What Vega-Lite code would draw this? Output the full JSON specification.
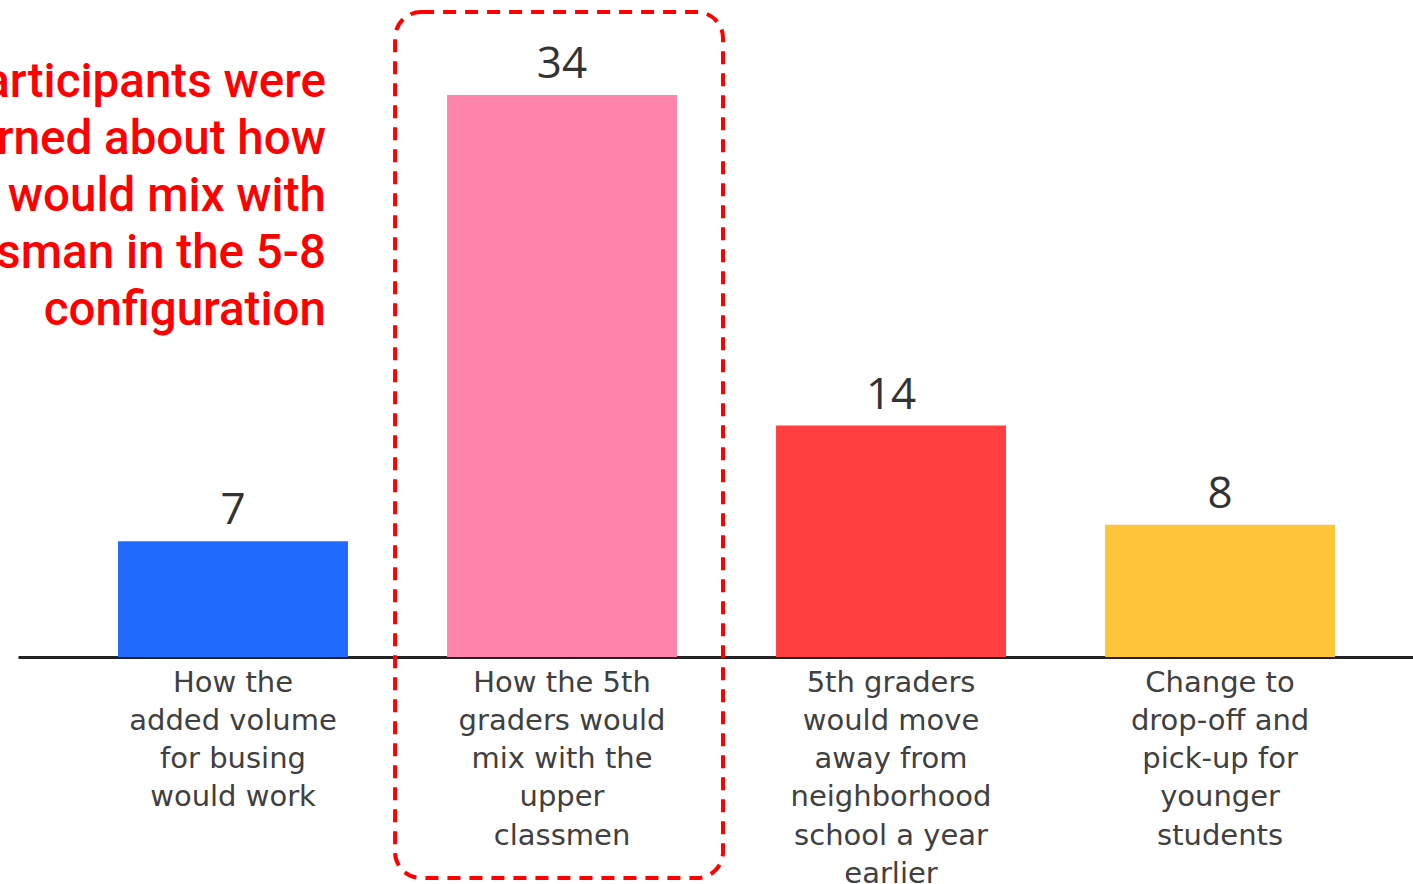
{
  "$schema": "https://vega.github.io/schema/vega-lite/v6.json",
  "autosize": {"type": "none"},
  "width": 1395,
  "height": 657,
  "padding": {"left": 18, "top": 0, "right": 0, "bottom": 227},
  "background": "white",
  "config": {"view": {"stroke": null}},
  "data": {"values": [
    {"cat": "A", "label": "How the|added volume|for busing|would work", "value": 7, "color": "#1f6bfe"},
    {"cat": "B", "label": "How the 5th|graders would|mix with the|upper|classmen", "value": 34, "color": "#ff84ab"},
    {"cat": "C", "label": "5th graders|would move|away from|neighborhood|school a year|earlier", "value": 14, "color": "#ff403f"},
    {"cat": "D", "label": "Change to|drop-off and|pick-up for|younger|students", "value": 8, "color": "#fec43a"}
  ]},
  "encoding": {
    "x": {
      "field": "cat", "type": "nominal", "sort": null,
      "scale": {"paddingInner": 0.301, "paddingOuter": 0.2705, "align": 0.562},
      "axis": {
        "title": null, "ticks": false, "domainColor": "#222222", "domainWidth": 3,
        "labelAngle": 0, "labelFont": "DejaVu Sans", "labelFontSize": 29, "labelColor": "#404040",
        "labelLineHeight": 38.3, "labelPadding": 11, "labelBaseline": "top", "labelLimit": 0,
        "labelExpr": "split(datum.value == 'A' ? 'How the|added volume|for busing|would work' : datum.value == 'B' ? 'How the 5th|graders would|mix with the|upper|classmen' : datum.value == 'C' ? '5th graders|would move|away from|neighborhood|school a year|earlier' : 'Change to|drop-off and|pick-up for|younger|students', '|')"
      }
    }
  },
  "layer": [
    {
      "mark": {"type": "bar"},
      "encoding": {
        "y": {"field": "value", "type": "quantitative", "scale": {"domain": [0, 39.75], "nice": false}, "axis": null},
        "color": {"field": "color", "type": "nominal", "scale": null, "legend": null}
      }
    },
    {
      "mark": {"type": "text", "baseline": "alphabetic", "dy": -17, "font": "Open Sans", "fontSize": 44, "color": "#333333"},
      "encoding": {
        "y": {"field": "value", "type": "quantitative"},
        "text": {"field": "value", "type": "quantitative"}
      }
    },
    {
      "data": {"values": [{"note": "Participants were\nconcerned about how\nthey would mix with\nupperclassman in the 5-8\nconfiguration"}]},
      "mark": {"type": "text", "align": "right", "baseline": "alphabetic", "lineBreak": "\n", "lineHeight": 57, "font": "Roboto", "fontWeight": 500, "fontSize": 47.5, "color": "#ff0000"},
      "encoding": {
        "x": {"datum": "A", "bandPosition": 0.904},
        "y": {"datum": 33.88},
        "text": {"field": "note"}
      }
    },
    {
      "data": {"values": [{"k": 1}]},
      "mark": {"type": "rect", "fill": null, "stroke": "#ff0000", "strokeWidth": 4, "strokeDash": [13, 9], "cornerRadius": 26, "clip": false},
      "encoding": {
        "x": {"datum": "B", "bandPosition": -0.226},
        "x2": {"datum": "B", "bandPosition": 1.2},
        "y": {"datum": 39.02},
        "y2": {"datum": -13.37}
      }
    }
  ]
}
